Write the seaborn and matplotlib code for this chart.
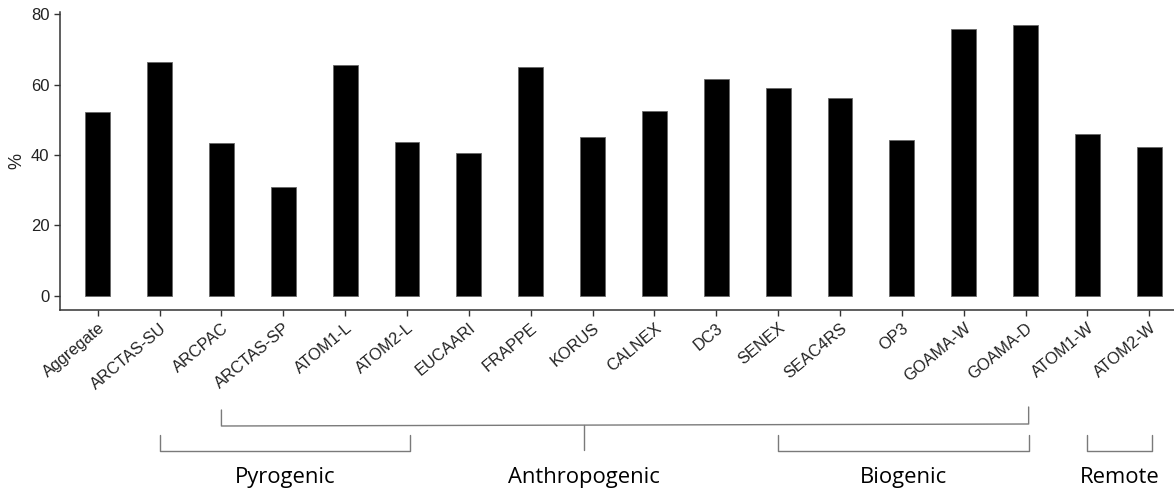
import matplotlib
matplotlib.use("Agg")
import matplotlib.pyplot as plt
import matplotlib.transforms as mtransforms
from matplotlib.lines import Line2D
import seaborn as sns

# Data
campaigns = ["Aggregate", "ARCTAS-SU", "ARCPAC", "ARCTAS-SP", "ATOM1-L", "ATOM2-L",
             "EUCAARI", "FRAPPE", "KORUS", "CALNEX", "DC3", "SENEX", "SEAC4RS",
             "OP3", "GOAMA-W", "GOAMA-D", "ATOM1-W", "ATOM2-W"]
percent = [52.2, 66.4, 43.4, 30.9, 65.5, 43.6, 40.6, 65.1, 45.0, 52.4,
           61.5, 59.1, 56.1, 44.2, 75.8, 76.9, 45.9, 42.4]
y_ticks = [0, 20, 40, 60, 80]

# Source groups (label, first campaign, last campaign)
groups = [("Pyrogenic", "ARCTAS-SU", "ATOM2-L"),
          ("Biogenic", "SENEX", "GOAMA-D"),
          ("Remote", "ATOM1-W", "ATOM2-W")]
anthro = ("Anthropogenic", "ARCPAC", "GOAMA-D")

sns.set_style("ticks")
plt.rcParams["font.family"] = ["Liberation Sans", "DejaVu Sans"]

fig = plt.figure(figsize=(11.74, 4.88), dpi=100)
H = 488.0
ax = fig.add_axes([60 / 1174, (H - 310) / H, 1 - 60 / 1174, 298 / H])

sns.barplot(x=campaigns, y=percent, color="black", width=0.4, saturation=1,
            edgecolor="#666666", linewidth=0.6, ax=ax)

ax.set_xlim(-0.61, 17.4)
ax.set_ylim(-4, 80.6)
ax.set_yticks(y_ticks)
ax.set_ylabel("%", fontsize=13, color="#222222", labelpad=4)
ax.set_xlabel("")

for side in ["top", "right"]:
    ax.spines[side].set_visible(False)
for side in ["left", "bottom"]:
    ax.spines[side].set_color("#333333")
    ax.spines[side].set_linewidth(1.1)

ax.tick_params(axis="both", colors="#333333", length=4, width=1.0,
               labelsize=12, labelcolor="#222222")
plt.setp(ax.get_xticklabels(), rotation=40, ha="right", va="top",
         rotation_mode="anchor", fontsize=11.8)

# Bracket annotations below the axis
trans = mtransforms.blended_transform_factory(ax.transData, fig.transFigure)
pos = {c: i for i, c in enumerate(campaigns)}
line_kw = dict(color="#7a7a7a", linewidth=1.0, transform=trans)
label_kw = dict(transform=trans, ha="center", va="baseline", fontsize=15.8,
                family=["Open Sans", "DejaVu Sans"], color="#000000")


def fy(py):
    return (H - py) / H


for name, a, b in groups:
    x0, x1 = pos[a], pos[b] + 0.05
    fig.add_artist(Line2D([x0, x0, x1, x1], [fy(435), fy(451), fy(451), fy(435)], **line_kw))
    fig.text((x0 + x1) / 2, fy(483), name, **label_kw)

name, a, b = anthro
x0, x1 = pos[a], pos[b] + 0.05
fig.add_artist(Line2D([x0, x0, x1, x1], [fy(410), fy(426), fy(424), fy(407)], **line_kw))
xm = 7.86
fig.add_artist(Line2D([xm, xm], [fy(425), fy(450)], **line_kw))
fig.text(xm, fy(483), name, **label_kw)

fig.savefig("out.png", dpi=100)
